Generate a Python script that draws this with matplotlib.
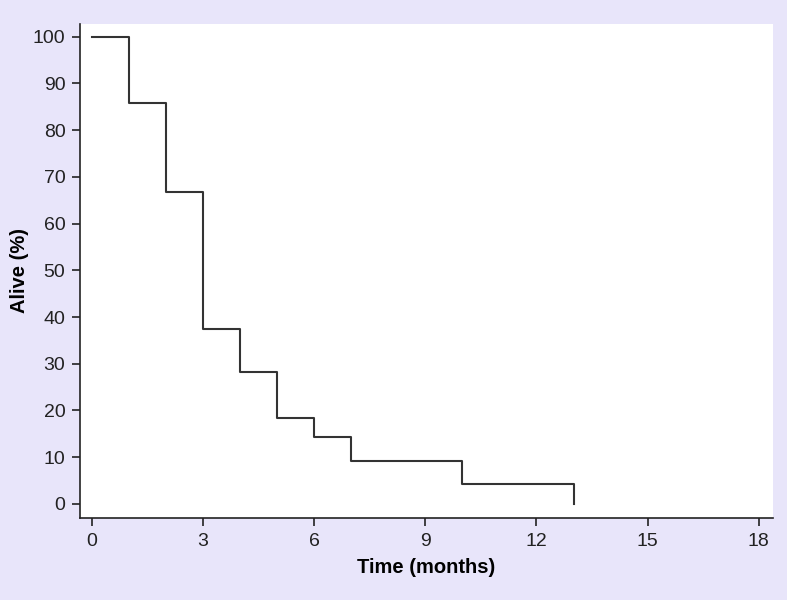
import numpy as np
import matplotlib
matplotlib.use('Agg')
import matplotlib.pyplot as plt

plt.rcParams['font.family'] = ['Liberation Sans', 'DejaVu Sans']

# Kaplan-Meier style survival steps
step_times = [0, 1, 2, 3, 4, 5, 6, 7, 10, 13]
alive_pct = [100, 85.7, 66.7, 37.4, 28.2, 18.3, 14.3, 9.2, 4.3, 0]

x_ticks = [0, 3, 6, 9, 12, 15, 18]
y_ticks = [0, 10, 20, 30, 40, 50, 60, 70, 80, 90, 100]

bg = '#e8e5fa'
fig = plt.figure(figsize=(7.87, 6), dpi=100, facecolor=bg)
ax = fig.add_axes([0.1017, 0.1367, 0.8803, 0.8233])
ax.set_facecolor('white')

ax.step(step_times, alive_pct, where='post', color='#333333', lw=1.5)

ax.set_xlim(-0.32, 18.38)
ax.set_ylim(-3.0, 102.7)
ax.set_xticks(x_ticks)
ax.set_yticks(y_ticks)

for s in ['top', 'right']:
    ax.spines[s].set_visible(False)
for s in ['left', 'bottom']:
    ax.spines[s].set_color('#222222')
    ax.spines[s].set_linewidth(1.2)

ax.tick_params(axis='both', direction='out', length=6, width=1.2,
               color='#222222', labelsize=14, labelcolor='#222222', pad=4.5)

ax.set_xlabel('Time (months)', fontsize=14.5, fontweight='bold', labelpad=6)
ax.set_ylabel('Alive (%)', fontsize=14.5, fontweight='bold', labelpad=2.5)

fig.savefig('out.png', dpi=100, facecolor=bg)
